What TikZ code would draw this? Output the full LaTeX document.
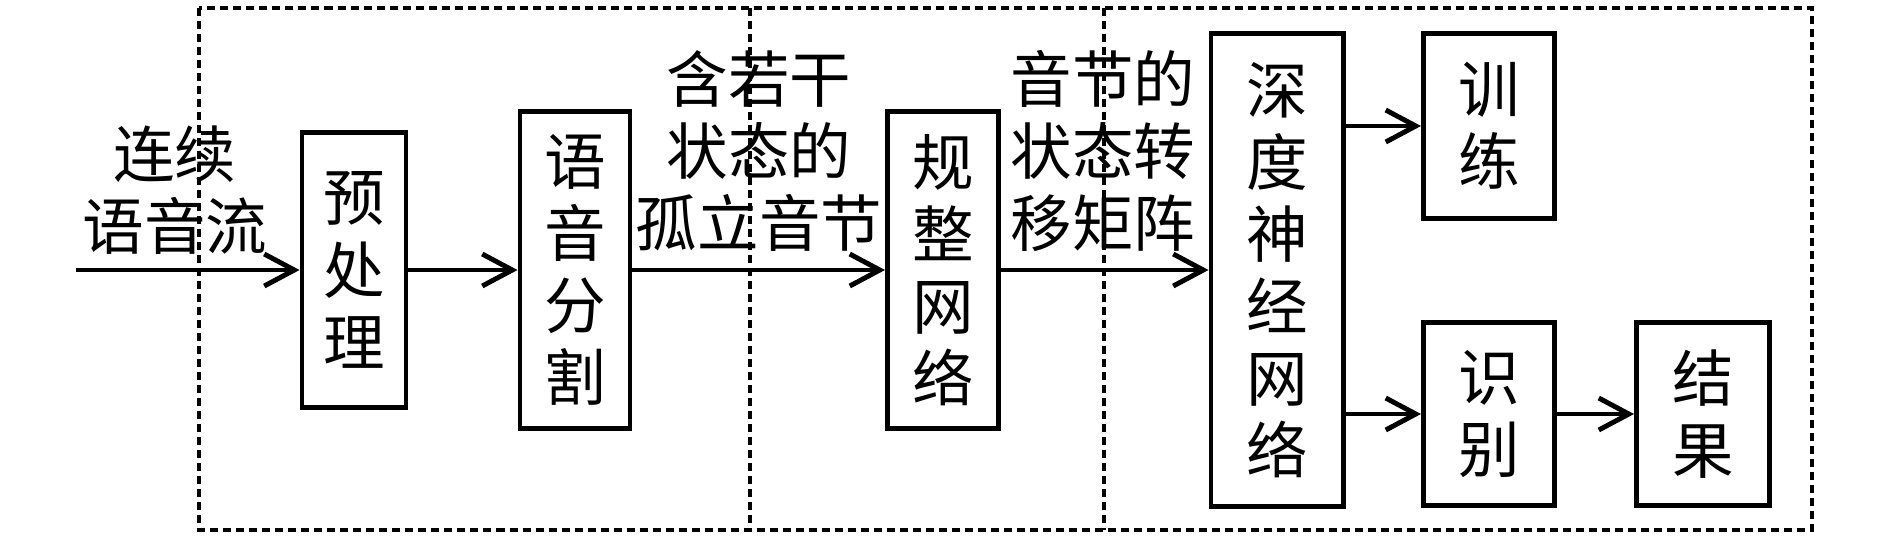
\documentclass[tikz,border=0pt]{standalone}
\usepackage{fontspec}
\newfontfamily\cjk{Noto Sans CJK SC}
\usetikzlibrary{arrows.meta}

\begin{document}
\begin{tikzpicture}[x=0.01cm,y=-0.01cm,>={Straight Barb[length=3mm,width=3.2mm]},
    line width=1.4pt,
    every node/.style={font=\cjk\fontsize{17.5}{20.5}\selectfont,align=center},
    blk/.style={draw,inner sep=0pt}]
    \useasboundingbox (0,0) rectangle (1890,541);

    % dashed frames
    \draw[dash pattern=on 0.08cm off 0.05cm,line width=1.3pt] (199,8) rectangle (1812,530);
    \draw[dash pattern=on 0.08cm off 0.05cm,line width=1.3pt] (750,8) -- (750,530)
                                                     (1104,8) -- (1104,530);

    \coordinate (in) at (76,270);
    \node[blk,minimum width=1.04cm,minimum height=2.74cm] (pre)  at (354,270)  {预\\处\\理};
    \node[blk,minimum width=1.10cm,minimum height=3.16cm] (seg)  at (575,270)  {语\\音\\分\\割};
    \node[blk,minimum width=1.11cm,minimum height=3.16cm] (reg)  at (943,270)  {规\\整\\网\\络};
    \node[blk,minimum width=1.32cm,minimum height=4.72cm] (dnn)  at (1277,270) {深\\度\\神\\经\\网\\络};
    \node[blk,minimum width=1.31cm,minimum height=1.84cm] (train) at (1489,126) {训\\练};
    \node[blk,minimum width=1.31cm,minimum height=1.83cm] (recog) at (1489,414) {识\\别};
    \node[blk,minimum width=1.33cm,minimum height=1.83cm] (res)  at (1703,414) {结\\果};

    \node (lin)  at (175,190) {连续\\语音流};
    \node (lseg) at (759,151) {含若干\\状态的\\孤立音节};
    \node (lreg) at (1103,151) {音节的\\状态转\\移矩阵};

    \path (in)                   edge[->] (pre)
          (pre)                  edge[->] (seg)
          (seg)                  edge[->] (reg)
          (reg)                  edge[->] (dnn)
          (dnn.east |- train)    edge[->] (train)
          (dnn.east |- recog)    edge[->] (recog)
          (recog)                edge[->] (res);
\end{tikzpicture}
\end{document}
